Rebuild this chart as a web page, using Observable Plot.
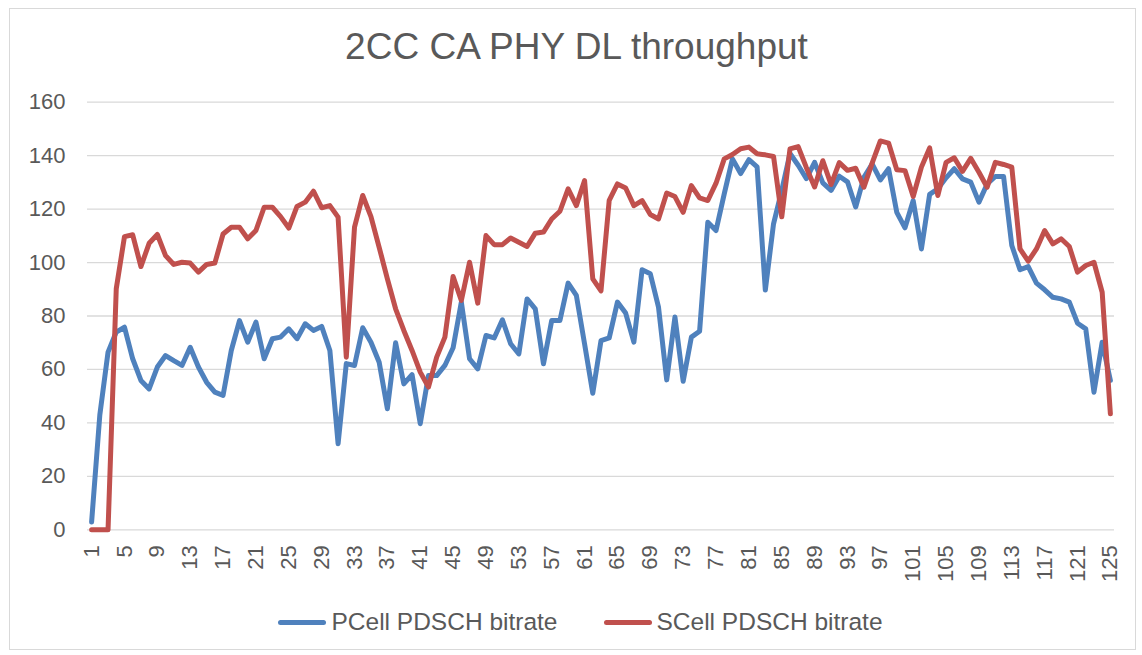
<!DOCTYPE html>
<html>
<head>
<meta charset="utf-8">
<script src="https://cdn.jsdelivr.net/npm/d3@7"></script>
<script src="https://cdn.jsdelivr.net/npm/@observablehq/plot@0.6"></script>
<style>
  html, body { margin: 0; padding: 0; background: #fff; }
  #wrap { position: relative; width: 1142px; height: 655px; overflow: hidden; font-family: "Liberation Sans", Arial, sans-serif; color: #595959; }
  #frame { position: absolute; left: 9px; top: 8px; width: 1127px; height: 642px; border: 1px solid #d9d9d9; box-sizing: border-box; }
  #title { position: absolute; left: 0; top: 28px; width: 1153px; text-align: center; font-size: 37px; line-height: 37px; color: #595959; }
  #chart { position: absolute; left: 0; top: 0; }
  #legend { position: absolute; left: 0; top: 608px; width: 1161px; height: 28px; display: flex; justify-content: center; align-items: center; font-size: 24.5px; color: #595959; }
  .item { display: flex; align-items: center; }
  .swatch { width: 48px; height: 5px; border-radius: 3px; margin-right: 5px; }
</style>
</head>
<body>
<div id="wrap">
  <div id="frame"></div>
  <div id="chart"></div>
  <div id="title">2CC CA PHY DL throughput</div>
  <div id="legend"></div>
</div>
<script>
const seriesNames = ["PCell PDSCH bitrate", "SCell PDSCH bitrate"];
const seriesColors = ["#4F81BD", "#C0504D"];

const pcell = [
  2.9, 43, 66.5, 74, 75.8, 64, 55.9, 52.7, 60.9, 65.2,
  63.3, 61.5, 68.3, 60.9, 55.2, 51.5, 50.3, 67.1, 78.3, 70.2,
  77.7, 64, 71.5, 72.1, 75.2, 71.5, 77.1, 74.6, 76.1, 67.1,
  32.2, 62.2, 61.5, 75.6, 70.2, 62.7, 45.3, 70, 54.6, 58.1,
  39.7, 57.7, 57.7, 61.5, 68.1, 85.2, 64, 60.2, 72.7, 71.8,
  78.6, 69.6, 65.8, 86.4, 82.7, 62.1, 78.3, 78.3, 92.3, 87.7,
  69.6, 51.1, 70.8, 71.8, 85.2, 81.1, 70.2, 97.3, 95.8, 83.3,
  56.1, 79.6, 55.6, 72.1, 74.3, 115.1, 112, 125.7, 138.8, 133.3,
  138.5, 135.8, 89.7, 114.5, 127, 140.8, 136.4, 131.4, 137.5, 129.8,
  127, 132.3, 130.2, 120.8, 131.9, 136.9, 130.9, 135.1, 118.8, 113,
  123.2, 105.1, 125.5, 127.6, 131.7, 135.1, 131.3, 130.1, 122.6, 129.4,
  132.2, 132.2, 106.4, 97.3, 98.5, 92.3, 89.8, 87, 86.4, 85.2,
  77.3, 75.2, 51.5, 70.2, 55.9
];

const scell = [
  0, 0, 0, 90.2, 109.7, 110.4, 98.5, 107.2, 110.5, 102.6,
  99.3, 100.1, 99.8, 96.4, 99.3, 99.8, 110.7, 113.2, 113.2, 108.9,
  112, 120.7, 120.7, 117.2, 112.9, 121, 122.6, 126.7, 120.5, 121.3,
  117, 64.6, 113.3, 125.1, 117.2, 105.7, 93.9, 82.7, 74.6, 67.1,
  59, 53.4, 64.6, 72.1, 94.8, 85.8, 100.1, 84.8, 110.1, 106.7,
  106.7, 109.2, 107.6, 106, 111, 111.4, 116.3, 119.2, 127.6, 121.3,
  130.7, 93.9, 89.4, 123.3, 129.4, 127.9, 121.3, 123.2, 118, 116.3,
  126, 124.7, 118.8, 128.8, 124.2, 123.2, 129.7, 138.8, 140.4, 142.6,
  143.2, 140.7, 140.3, 139.7, 117.1, 142.5, 143.4, 135.5, 128.3, 138.1,
  129.2, 137.4, 134.5, 135.3, 128.2, 137.2, 145.5, 144.7, 134.7, 134.4,
  124.7, 135.7, 142.9, 125.1, 137.5, 139.2, 134.1, 139, 133.8, 128.2,
  137.5, 136.7, 135.7, 105.1, 100.5, 105.1, 112, 107, 108.9, 106,
  96.4, 98.9, 100.1, 88.9, 43.4
];

const xTicks = [1, 5, 9, 13, 17, 21, 25, 29, 33, 37, 41, 45, 49, 53, 57, 61, 65, 69, 73, 77, 81, 85, 89, 93, 97, 101, 105, 109, 113, 117, 121, 125];
const yTicks = [0, 20, 40, 60, 80, 100, 120, 140, 160];

const rows = [];
pcell.forEach((v, i) => rows.push({idx: i + 1, value: v, series: seriesNames[0]}));
scell.forEach((v, i) => rows.push({idx: i + 1, value: v, series: seriesNames[1]}));

const chart = Plot.plot({
  width: 1142,
  height: 600,
  marginLeft: 87,
  marginRight: 28,
  marginTop: 101.7,
  marginBottom: 70.7,
  style: {fontFamily: "'Liberation Sans', Arial, sans-serif", fontSize: "22px", color: "#595959", background: "transparent", overflow: "visible"},
  x: {type: "linear", domain: [0.5, pcell.length + 0.5]},
  y: {domain: [0, 160]},
  color: {domain: seriesNames, range: seriesColors},
  marks: [
    Plot.gridY(yTicks, {stroke: "#d9d9d9", strokeOpacity: 1, strokeWidth: 1.3}),
    Plot.axisY(yTicks, {tickSize: 0, tickPadding: 22, fontSize: 22, fill: "#595959", label: null}),
    Plot.axisX(xTicks, {tickSize: 0, tickPadding: 15.5, tickRotate: -90, fontSize: 22, fill: "#595959", label: null}),
    Plot.line(rows, {x: "idx", y: "value", z: "series", stroke: "series", strokeWidth: 5, strokeLinejoin: "round", strokeLinecap: "round"})
  ]
});
document.getElementById("chart").appendChild(chart);

const legend = document.getElementById("legend");
seriesNames.forEach((name, k) => {
  const item = document.createElement("div");
  item.className = "item";
  if (k > 0) item.style.marginLeft = "46px";
  const sw = document.createElement("div");
  sw.className = "swatch";
  sw.style.background = seriesColors[k];
  const label = document.createElement("span");
  label.textContent = name;
  item.appendChild(sw);
  item.appendChild(label);
  legend.appendChild(item);
});
</script>
</body>
</html>
